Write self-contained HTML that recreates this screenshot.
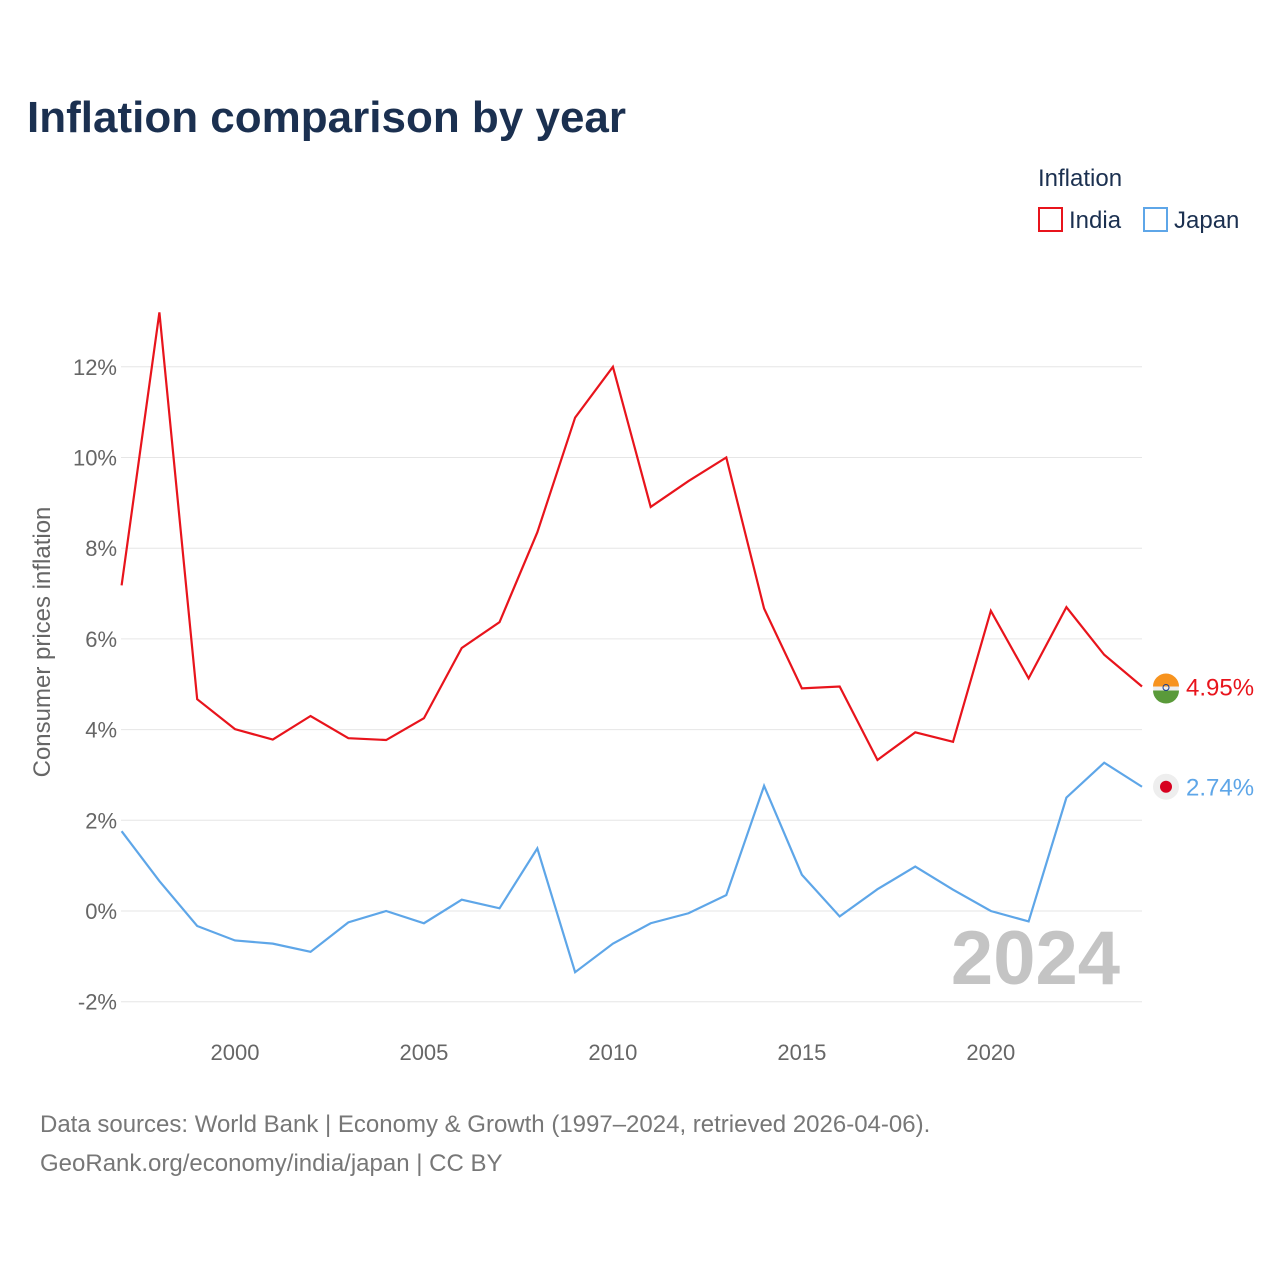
<!DOCTYPE html>
<html><head><meta charset="utf-8">
<style>
body{margin:0;background:#fff;font-family:"Liberation Sans",sans-serif;}
svg text{font-family:"Liberation Sans",sans-serif;}
</style></head>
<body>
<svg width="1280" height="1280" viewBox="0 0 1280 1280" xmlns="http://www.w3.org/2000/svg">
<rect width="1280" height="1280" fill="#fff"/>
<text x="27" y="132" font-size="44" font-weight="bold" fill="#1b3050">Inflation comparison by year</text>
<text x="1038" y="186" font-size="24" fill="#1b3050">Inflation</text>
<g><rect x="1039" y="208" width="23" height="23" fill="none" stroke="#e8141c" stroke-width="2"/><text x="1069" y="228" font-size="24" fill="#1b3050">India</text></g>
<g><rect x="1144" y="208" width="23" height="23" fill="none" stroke="#5ea6e8" stroke-width="2"/><text x="1174" y="228" font-size="24" fill="#1b3050">Japan</text></g>
<g id="grid"></g>
<g id="yticks"></g>
<g id="xticks"></g>
<text transform="translate(50,642) rotate(-90)" text-anchor="middle" font-size="24" fill="#666">Consumer prices inflation</text>
<text x="1120" y="984" text-anchor="end" font-size="76" font-weight="bold" fill="#c4c4c4">2024</text>
<g id="series"></g>
<text x="40" y="1132" font-size="24" fill="#777">Data sources: World Bank | Economy &amp; Growth (1997–2024, retrieved 2026-04-06).</text>
<text x="40" y="1171" font-size="24" fill="#777">GeoRank.org/economy/india/japan | CC BY</text>
</svg>
<script>
const years=[1997,1998,1999,2000,2001,2002,2003,2004,2005,2006,2007,2008,2009,2010,2011,2012,2013,2014,2015,2016,2017,2018,2019,2020,2021,2022,2023,2024];
const india=[7.18,13.2,4.67,4.01,3.78,4.30,3.81,3.77,4.25,5.8,6.37,8.35,10.88,12.0,8.91,9.48,10.0,6.67,4.91,4.95,3.33,3.94,3.73,6.62,5.13,6.7,5.65,4.95];
const japan=[1.76,0.66,-0.33,-0.65,-0.72,-0.9,-0.25,0,-0.27,0.25,0.06,1.38,-1.35,-0.72,-0.27,-0.05,0.35,2.76,0.8,-0.12,0.48,0.98,0.47,0,-0.23,2.5,3.27,2.74];
const yTicks=[-2,0,2,4,6,8,10,12];
const xTicks=[2000,2005,2010,2015,2020];
const NS="http://www.w3.org/2000/svg";
const x=v=>121.6+(v-1997)*(1142-121.6)/27;
const y=v=>911-v*45.35;
function mk(t,a,p){const e=document.createElementNS(NS,t);for(const k in a)e.setAttribute(k,a[k]);p.appendChild(e);return e;}
const grid=document.getElementById('grid'),yt=document.getElementById('yticks'),xt=document.getElementById('xticks'),ser=document.getElementById('series');
yTicks.forEach(v=>{
const l=mk('line',{x1:121,x2:1142,y1:y(v),y2:y(v),stroke:'#e6e6e6','stroke-width':1},grid);


const t=mk('text',{x:117,y:y(v)+8,'text-anchor':'end','font-size':22,fill:'#666'},yt);
t.textContent=v+'%';


});
xTicks.forEach(v=>{
const t=mk('text',{x:x(v),y:1060,'text-anchor':'middle','font-size':22,fill:'#666'},xt);
t.textContent=v;


});
function line(vals,color,name){
const p=mk('polyline',{points:vals.map((v,i)=>x(years[i])+','+y(v)).join(' '),fill:'none',stroke:color,'stroke-width':2.2,'stroke-linejoin':'miter'},ser);


const last=vals[vals.length-1];
const c=mk('circle',{cx:1166,cy:y(last),r:13,fill:'#eee'},ser);


const t=mk('text',{x:1186,y:y(last)+9,'font-size':24,fill:color},ser);
t.textContent=last.toFixed(2)+'%';


return y(last);
}
const iy=line(india,'#e8141c','india');
mk('path',{d:`M1153 ${iy} a13 13 0 0 1 26 0 z`,fill:'#f7931e'},ser);
mk('path',{d:`M1153 ${iy+4} a13 13 0 0 0 26 0 z`,fill:'#5a9a3a'},ser);
mk('circle',{cx:1166,cy:iy+1,r:3,fill:'none',stroke:'#1a3d8f','stroke-width':1},ser);
const jy=line(japan,'#5ea6e8','japan');
mk('circle',{cx:1166,cy:jy,r:6,fill:'#d7001f'},ser);
</script>
</body></html>
